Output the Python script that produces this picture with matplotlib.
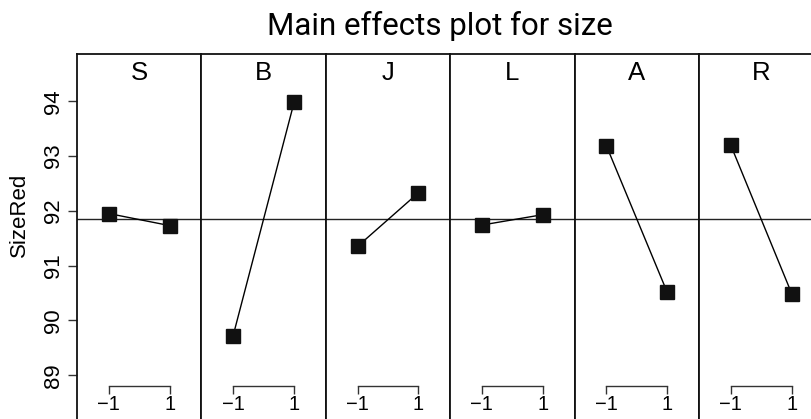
import numpy as np
import matplotlib
matplotlib.use('Agg')
from matplotlib import pyplot as plt

# main effects data
factors = ['S', 'B', 'J', 'L', 'A', 'R']
levels = [-1, 1]
low_means = [91.95, 89.72, 91.35, 91.74, 93.19, 93.20]
high_means = [91.73, 93.98, 92.33, 91.93, 90.51, 90.49]
grand_mean = 91.85
y_ticks = [89, 90, 91, 92, 93, 94]

plt.rcParams['font.family'] = ['Liberation Sans', 'DejaVu Sans']

W, H = 811, 419
fig = plt.figure(figsize=(W / 100, H / 100), dpi=100)

# panel geometry in pixels
left_px = 77.0
panel_w = 124.4
top_px = 53.7
px_per_unit = 54.8
y92_px = 210.8
ymax = 92 + (y92_px - top_px) / px_per_unit
ymin = 88.0
bottom_px = y92_px + (92 - ymin) * px_per_unit
strip_y = 92 + (y92_px - 80) / px_per_unit

for i, name in enumerate(factors):
    x0 = left_px + i * panel_w
    ax = fig.add_axes([x0 / W, 1 - bottom_px / H, panel_w / W, (bottom_px - top_px) / H])
    ax.set_xlim(-2.04, 2.04)
    ax.set_ylim(ymin, ymax)

    ax.axhline(grand_mean, color='#222222', lw=1.0, zorder=1)
    ax.plot(levels, [low_means[i], high_means[i]], color='black', lw=1.0, zorder=2)
    ax.plot(levels, [low_means[i], high_means[i]], ls='none', marker='s',
            markersize=10, color='#111111', zorder=3)

    # factor name in the strip
    ax.text(0, strip_y, name, ha='center', va='baseline', fontsize=18.5)

    for s in ['left', 'right', 'top']:
        ax.spines[s].set_linewidth(1.3)
        ax.spines[s].set_color('#111111')

    # bracket style x axis
    ax.spines['bottom'].set_position(('data', 88.81))
    ax.spines['bottom'].set_bounds(-1, 1)
    ax.spines['bottom'].set_linewidth(1.0)
    ax.spines['bottom'].set_color('#333333')
    ax.set_xticks(levels)
    ax.set_xticklabels(['\u22121', '1'])
    ax.tick_params(axis='x', direction='out', length=6.0, width=1.0,
                   color='#333333', labelsize=14.5, pad=1.0)

    if i == 0:
        ax.set_yticks(y_ticks)
        ax.set_yticklabels([str(t) for t in y_ticks], rotation=90, va='center')
        ax.tick_params(axis='y', direction='out', length=6.5, width=1.0,
                       color='#333333', labelsize=16, pad=2.5)
    else:
        ax.set_yticks([])

fig.text(19.5 / W, 1 - 215 / H, 'SizeRed', rotation=90, ha='center', va='center',
         fontsize=16)
fig.text(440 / W, 1 - 35 / H, 'Main effects plot for size', ha='center', va='baseline',
         fontsize=22.5, family=['Roboto', 'DejaVu Sans'])

fig.savefig('out.png', dpi=100)
